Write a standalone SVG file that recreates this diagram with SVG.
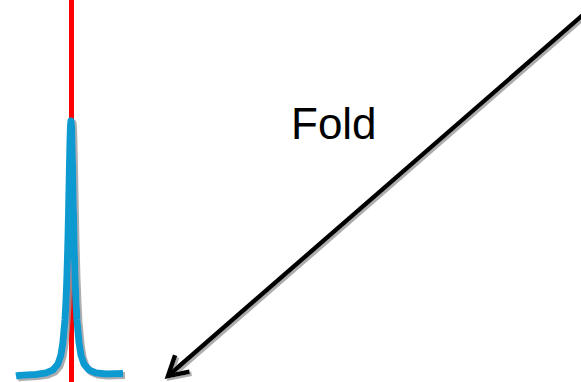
<svg xmlns="http://www.w3.org/2000/svg" width="581" height="382" viewBox="0 0 581 382">
<style>
.label{font-family:"Liberation Sans",Arial,sans-serif;font-size:44px;fill:#000}
.peak{fill:none;stroke:#0A9AD0;stroke-width:7;stroke-linejoin:round;stroke-linecap:butt}
.ref{stroke:#FF0000;stroke-width:5}
.conn{fill:none;stroke:#000;stroke-width:4.5}
</style>
<defs>
<filter id="sh" x="-20%" y="-20%" width="140%" height="140%">
<feDropShadow dx="2" dy="2" stdDeviation="0.6" flood-color="#999" flood-opacity="0.8"/>
</filter>
<marker id="head" markerUnits="userSpaceOnUse" orient="auto" refX="0" refY="0" markerWidth="30" markerHeight="30" overflow="visible">
<path d="M-19,-11 L0,0 L-19,11" fill="none" stroke="#000" stroke-width="4.5" stroke-linejoin="miter"/>
</marker>
</defs>
<rect width="581" height="382" fill="#fff"/>
<g id="reference-line">
<line class="ref" x1="71.5" y1="0" x2="71.5" y2="382"/>
</g>
<g id="spectrum" filter="url(#sh)">
<polyline class="peak" points="16,376 19,375.5 36,374.5 46,373 53,370 58,364 61,355 63,342 65,320 66,302 67,276 68,240 69,192 69.5,166 70,143 70.5,126 71,121 71.5,126 72,143 72.5,166 73,192 74,240 75,276 76,302 77,320 79,342 81,355 84,364 89,370 96,373 106,374 123,373.5"/>
</g>
<g id="fold-label">
<text class="label" x="291" y="139">Fold</text>
</g>
<g id="connectors" filter="url(#sh)">
<line class="conn" x1="583" y1="15" x2="168" y2="376" marker-end="url(#head)"/>
</g>
</svg>
